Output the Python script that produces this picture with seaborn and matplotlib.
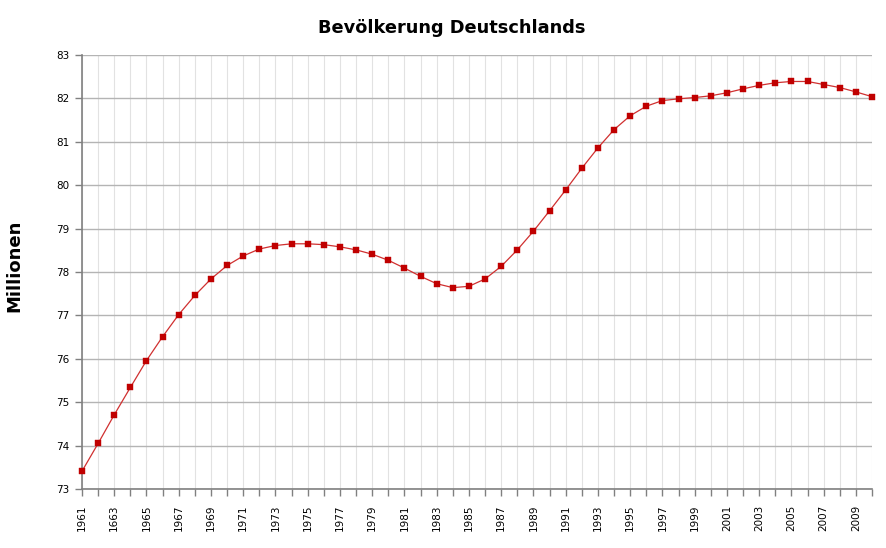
import matplotlib
matplotlib.use("Agg")
import matplotlib.pyplot as plt
import seaborn as sns
import pandas as pd

years = list(range(1961, 2011))
population = [73.41, 74.05, 74.71, 75.34, 75.96, 76.51, 77.02, 77.46, 77.84, 78.15,
              78.37, 78.53, 78.61, 78.65, 78.65, 78.63, 78.58, 78.51, 78.41, 78.27,
              78.09, 77.90, 77.73, 77.64, 77.67, 77.84, 78.13, 78.51, 78.94, 79.41,
              79.89, 80.39, 80.86, 81.28, 81.60, 81.82, 81.95, 81.99, 82.02, 82.06,
              82.13, 82.22, 82.30, 82.36, 82.39, 82.39, 82.32, 82.25, 82.15, 82.04]
tick_years = list(range(1961, 2010, 2))
tick_labels = ["1961", "1663"] + [str(y) for y in range(1965, 2010, 2)]
y_ticks = list(range(73, 84))

df = pd.DataFrame({"Jahr": years, "Millionen": population})

sns.set_theme(style="white")
plt.rcParams["font.family"] = ["DejaVu Sans"]
plt.rcParams["text.color"] = "black"
plt.rcParams["axes.labelcolor"] = "black"

fig = plt.figure(figsize=(8.87, 5.48), dpi=100)
ax = fig.add_axes([82/887, 1-489/548, (872-82)/887, (489-55)/548])

for y in years:
    ax.axvline(y, color="#e2e2e2", lw=0.8, zorder=0)
for v in y_ticks:
    ax.axhline(v, color="#b4b4b4", lw=1.0, zorder=0)

sns.lineplot(data=df, x="Jahr", y="Millionen", ax=ax, color="#d03030", lw=0.9,
             marker="s", markersize=5.0, markerfacecolor="#c00000",
             markeredgecolor="#c00000", markeredgewidth=0.3, zorder=3, clip_on=False)

ax.set_xlim(1961, 2010)
ax.set_ylim(73, 83)
ax.set_xticks(years)
lbls = []
for y in years:
    if y in tick_years:
        lbls.append(tick_labels[tick_years.index(y)])
    else:
        lbls.append("")
ax.set_xticklabels(lbls, rotation=90, fontsize=7.5)
ax.set_yticks(y_ticks)
ax.set_yticklabels([str(v) for v in y_ticks], fontsize=7.5)
ax.tick_params(axis="both", direction="out", length=5, width=1, color="#808080",
               labelcolor="black", bottom=True, left=True, pad=4)
ax.tick_params(axis="x", pad=6)

for s in ["top", "right"]:
    ax.spines[s].set_visible(False)
for s in ["left", "bottom"]:
    ax.spines[s].set_color("#808080")
    ax.spines[s].set_linewidth(1.2)

ax.set_xlabel("")
ax.set_ylabel("Millionen", fontsize=13, fontweight="bold", color="black")
ax.yaxis.set_label_coords((23 - 82) / 790, (489 - 266) / 434)
fig.text(452/887, 1-28/548, "Bevölkerung Deutschlands", ha="center", va="center",
         fontsize=12.8, fontweight="bold", color="black")

fig.savefig("out.png", dpi=100, facecolor="white")
